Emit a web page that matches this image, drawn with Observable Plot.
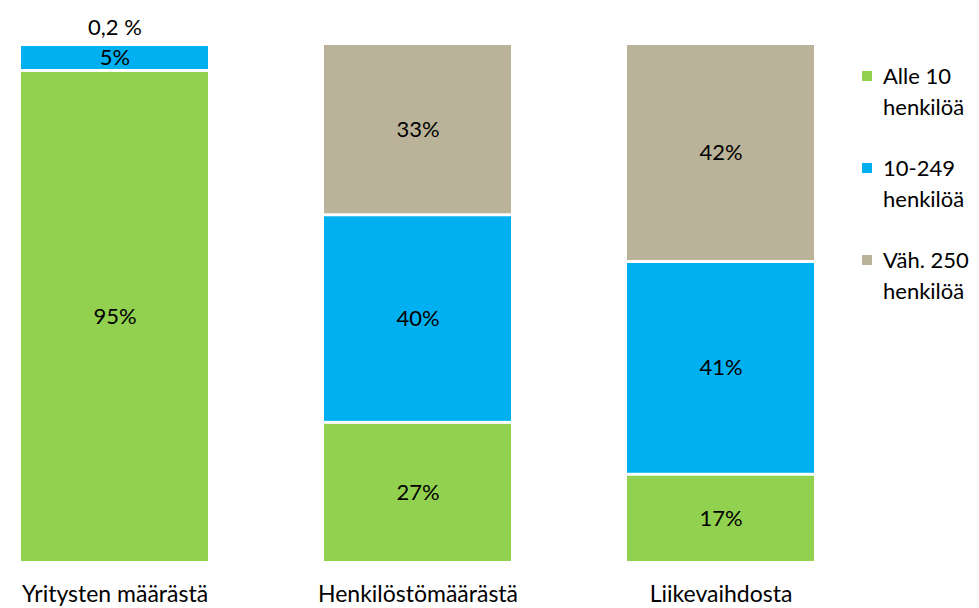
<!DOCTYPE html>
<html>
<head>
<meta charset="utf-8">
<script src="https://cdn.jsdelivr.net/npm/d3@7"></script>
<script src="https://cdn.jsdelivr.net/npm/@observablehq/plot@0.6"></script>
<style>
  html, body { margin: 0; padding: 0; background: #fff; overflow: hidden; }
  #wrap { position: relative; width: 979px; height: 608px; overflow: hidden; font-family: Lato, "Open Sans", sans-serif; }
  #legend { position: absolute; left: 862px; top: 60px; font-size: 22px; color: #000; white-space: nowrap; }
  .item { position: relative; padding-left: 21px; line-height: 31px; margin-bottom: 30px; }
  .sw { position: absolute; left: 0; top: 11px; width: 10px; height: 10px; }
</style>
</head>
<body>
<div id="wrap"><div id="chart"></div><div id="legend"></div></div>
<script>
const categories = ["Yritysten määrästä", "Henkilöstömäärästä", "Liikevaihdosta"];
const series = ["Alle 10 henkilöä", "10-249 henkilöä", "Väh. 250 henkilöä"];
const seriesLines = [["Alle 10", "henkilöä"], ["10-249", "henkilöä"], ["Väh. 250", "henkilöä"]];
const colors = ["#92D050", "#00B0F0", "#BAB399"];
const alle10 = [94.8, 27, 17];
const mid249 = [5.0, 40, 41];
const vah250 = [0.2, 33, 42];
const alle10Labels = ["95%", "27%", "17%"];
const mid249Labels = ["5%", "40%", "41%"];
const vah250Labels = ["0,2 %", "33%", "42%"];

const values = [alle10, mid249, vah250];
const labels = [alle10Labels, mid249Labels, vah250Labels];
const data = [];
series.forEach((s, si) => {
  categories.forEach((c, ci) => {
    data.push({category: c, series: s, value: values[si][ci], label: labels[si][ci], small: values[si][ci] < 1});
  });
});

const chart = Plot.plot({
  width: 979,
  height: 608,
  marginLeft: 0,
  marginRight: 145,
  marginTop: 43.5,
  marginBottom: 45.5,
  style: {fontFamily: "Lato, 'Open Sans', sans-serif", fontSize: "22px", color: "#000", background: "#fff"},
  x: {domain: categories, paddingInner: 0.384, paddingOuter: 0.066, label: null, tickSize: 0, tickPadding: 23},
  y: {domain: [0, 100], axis: null},
  color: {domain: series, range: colors},
  marks: [
    Plot.barY(data, Plot.stackY({x: "category", y: "value", fill: "series", order: series, insetTop: 1.5, insetBottom: 1.5})),
    Plot.text(data, Plot.stackY({x: "category", y: "value", z: "series", order: series, text: d => d.small ? "" : d.label, fill: "#000", fontSize: 22})),
    Plot.text(data, Plot.stackY2({x: "category", y: "value", z: "series", order: series, text: d => d.small ? d.label : "", fill: "#000", fontSize: 22, dy: -16}))
  ]
});
chart.querySelectorAll('[aria-label="x-axis tick label"] text').forEach(t => t.style.fontSize = "23px");
document.getElementById("chart").appendChild(chart);

const legend = document.getElementById("legend");
series.forEach((s, i) => {
  const item = document.createElement("div");
  item.className = "item";
  const sw = document.createElement("span");
  sw.className = "sw";
  sw.style.background = colors[i];
  item.appendChild(sw);
  seriesLines[i].forEach(line => {
    const d = document.createElement("div");
    d.textContent = line;
    item.appendChild(d);
  });
  legend.appendChild(item);
});
</script>
</body>
</html>
